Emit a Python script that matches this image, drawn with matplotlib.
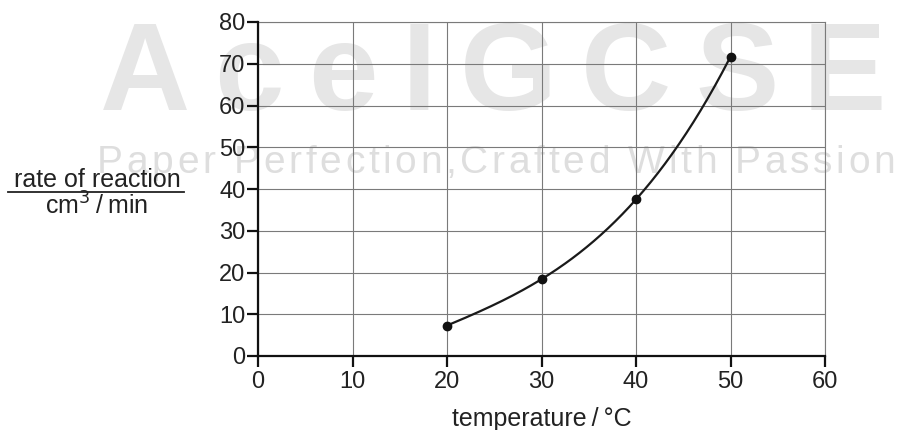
import matplotlib.pyplot as plt
import numpy as np

temperature = [20, 30, 40, 50]
rate = [7.3, 18.4, 37.5, 71.7]
x_ticks = [0, 10, 20, 30, 40, 50, 60]
y_ticks = [0, 10, 20, 30, 40, 50, 60, 70, 80]

W, H = 899, 430
plt.rcParams['font.family'] = ['Liberation Sans', 'DejaVu Sans']

fig = plt.figure(figsize=(W / 100, H / 100), dpi=100)
renderer = fig.canvas.get_renderer()


def px(x, y):
    return x / W, 1 - y / H


def tracked(text, x0, x1, baseline, size, color, weight='normal'):
    # spread the letters of a watermark across x0..x1 (pixels)
    arts = []
    for ch in text:
        t = fig.text(0, 0, ch, fontsize=size, color=color, zorder=-1,
                     va='baseline', ha='left', fontweight=weight)
        arts.append(t)
    widths = [a.get_window_extent(renderer).width for a in arts]
    gap = (x1 - x0 - sum(widths)) / (len(text) - 1)
    x = x0
    for a, w in zip(arts, widths):
        a.set_position(px(x, baseline))
        x += w + gap


tracked("AceIGCSE", 100, 886, 110, 90, '#e6e6e6', 'bold')
tracked("Paper Perfection,Crafted With Passion", 97, 895, 173, 28, '#dedede')

ax = fig.add_axes([258 / W, 1 - 356 / H, (825 - 258) / W, (356 - 22) / H])
ax.set_zorder(1)
ax.patch.set_alpha(0)

# smooth curve through the points
coef = np.polyfit(temperature, rate, 3)
xs = np.linspace(temperature[0], temperature[-1], 200)
ax.plot(xs, np.polyval(coef, xs), color='#1a1a1a', lw=1.6, zorder=3)
ax.plot(temperature, rate, 'o', color='#111111', ms=6, zorder=4)

ax.set_xlim(0, 60)
ax.set_ylim(0, 80)
ax.set_xticks(x_ticks)
ax.set_yticks(y_ticks)
ax.grid(True, color='#7a7a7a', lw=0.8)
ax.set_axisbelow(True)
for s in ['top', 'right']:
    ax.spines[s].set_color('#7a7a7a')
    ax.spines[s].set_linewidth(0.8)
for s in ['left', 'bottom']:
    ax.spines[s].set_color('#111111')
    ax.spines[s].set_linewidth(1.6)
    ax.spines[s].set_zorder(5)
ax.tick_params(axis='both', direction='out', length=8, width=1.6,
               colors='#111111', labelsize=17, labelcolor='#222222')
ax.tick_params(axis='x', pad=3)
ax.tick_params(axis='y', pad=1)

fig.text(*px(97, 187), 'rate of reaction', fontsize=18, ha='center',
         va='baseline', color='#222222')
fig.add_artist(plt.Line2D([8 / W, 184 / W], [1 - 192 / H] * 2,
                          color='#222222', lw=1.3))
fig.text(*px(97, 215), 'cm$^3$\u2009/\u2009min', fontsize=18, ha='center',
         va='baseline', color='#222222')
fig.text(*px(542, 426), 'temperature\u2009/\u2009°C', fontsize=18,
         ha='center', va='baseline', color='#222222')

fig.savefig('out.png', dpi=100)
